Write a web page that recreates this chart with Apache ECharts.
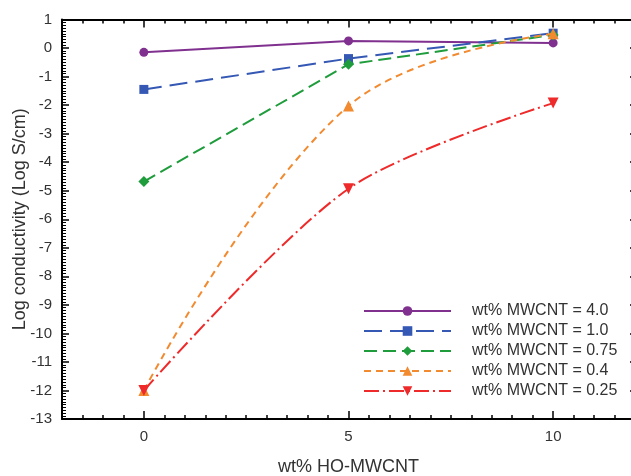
<!DOCTYPE html>
<html>
<head>
<meta charset="utf-8">
<script src="https://cdn.jsdelivr.net/npm/echarts@6/dist/echarts.min.js"></script>
<style>
html, body { margin: 0; padding: 0; background: #fff; }
#chart { width: 631px; height: 476px; }
</style>
</head>
<body>
<div id="chart"></div>
<script>
// data
const xValues = [0, 5, 10];
const seriesNames = [
    "wt% MWCNT = 4.0",
    "wt% MWCNT = 1.0",
    "wt% MWCNT = 0.75",
    "wt% MWCNT = 0.4",
    "wt% MWCNT = 0.25"
];
const mwcnt40 = [-0.15, 0.25, 0.18];
const mwcnt10 = [-1.45, -0.37, 0.52];
const mwcnt075 = [-4.68, -0.57, 0.46];
const mwcnt04 = [-12, -2.03, 0.5];
const mwcnt025 = [-12, -4.93, -1.93];
const xMajorTicks = [0, 5, 10];

const colors = ["#80308f", "#3558b5", "#1f9c3c", "#f28a30", "#ee2a2a"];
const fontFamily = "'Liberation Sans', Arial, sans-serif";

function pairs(ys) {
    return xValues.map((x, i) => [x, ys[i]]);
}

const myChart = echarts.init(document.getElementById("chart"));

const minorXAxis = (pos) => ({
    type: "value",
    position: pos,
    min: -2,
    max: 12,
    interval: 0.5,
    axisLine: { show: true, onZero: false, lineStyle: { color: "#000", width: 2 } },
    axisTick: { show: true, inside: true, length: 4, lineStyle: { color: "#000", width: 1.5 } },
    axisLabel: { show: false },
    splitLine: { show: false }
});
const majorXAxis = (pos, labels) => ({
    type: "value",
    position: pos,
    min: -2,
    max: 12,
    axisLine: { show: false, onZero: false },
    axisTick: { show: true, inside: true, length: 8, customValues: xMajorTicks, lineStyle: { color: "#000", width: 1.5 } },
    axisLabel: labels ? {
        show: true,
        customValues: xMajorTicks,
        color: "#333",
        fontSize: 15,
        fontFamily: fontFamily,
        margin: 10
    } : { show: false },
    splitLine: { show: false }
});

const xBottom = majorXAxis("bottom", true);
xBottom.name = "wt% HO-MWCNT";
xBottom.nameLocation = "middle";
xBottom.nameGap = 39;
xBottom.nameMoveOverlap = false;
xBottom.nameTextStyle = { color: "#333", fontSize: 18, fontFamily: fontFamily };

const lineDefs = [
    { data: mwcnt40, symbol: "circle", size: 9, type: "solid", smooth: false },
    { data: mwcnt10, symbol: "rect", size: 9, type: [18, 8], smooth: false },
    { data: mwcnt075, symbol: "diamond", size: 11, type: [13, 6], smooth: false },
    { data: mwcnt04, symbol: "triangle", size: 11, type: [7, 5], smooth: 0.4 },
    { data: mwcnt025, symbol: "path://M0,0 L10,0 L5,10 Z", size: 11, type: [15, 4, 2, 4], smooth: 0.3 }
];

myChart.setOption({
    animation: false,
    backgroundColor: "#fff",
    grid: { left: 62, right: -4, top: 19.5, bottom: 57, containLabel: false, outerBoundsMode: "none" },
    legend: {
        orient: "vertical",
        left: 363,
        top: 303,
        padding: 0,
        itemWidth: 87,
        itemHeight: 12,
        itemGap: 4,
        selectedMode: false,
        textStyle: {
            color: "#333",
            fontSize: 16,
            fontFamily: fontFamily,
            lineHeight: 16,
            padding: [0, 0, 0, 16]
        },
        data: seriesNames
    },
    xAxis: [
        xBottom,
        minorXAxis("bottom"),
        majorXAxis("top", false),
        minorXAxis("top")
    ],
    yAxis: [
        {
            type: "value",
            position: "left",
            min: -13,
            max: 1,
            interval: 1,
            name: "Log conductivity (Log S/cm)",
            nameLocation: "middle",
            nameGap: 33,
            nameMoveOverlap: false,
            nameTextStyle: { color: "#333", fontSize: 18, fontFamily: fontFamily },
            axisLine: { show: true, onZero: false, lineStyle: { color: "#000", width: 2 } },
            axisTick: { show: true, inside: true, length: 7, lineStyle: { color: "#000", width: 1.5 } },
            minorTick: { show: true, splitNumber: 10, length: 4, lineStyle: { color: "#000", width: 1 } },
            axisLabel: { color: "#333", fontSize: 15, fontFamily: fontFamily, margin: 10 },
            splitLine: { show: false }
        },
        {
            type: "value",
            position: "right",
            min: -13,
            max: 1,
            interval: 1,
            axisLine: { show: true, onZero: false, lineStyle: { color: "#000", width: 2 } },
            axisTick: { show: true, inside: true, length: 5, lineStyle: { color: "#000", width: 1.5 } },
            axisLabel: { show: false },
            splitLine: { show: false }
        }
    ],
    series: lineDefs.map((d, i) => ({
        name: seriesNames[i],
        type: "line",
        xAxisIndex: 0,
        yAxisIndex: 0,
        data: pairs(d.data),
        smooth: d.smooth,
        symbol: d.symbol,
        symbolSize: d.size,
        showSymbol: true,
        color: colors[i],
        itemStyle: { color: colors[i] },
        lineStyle: { color: colors[i], width: 2, type: d.type },
        z: 2 + i
    }))
});
</script>
</body>
</html>
